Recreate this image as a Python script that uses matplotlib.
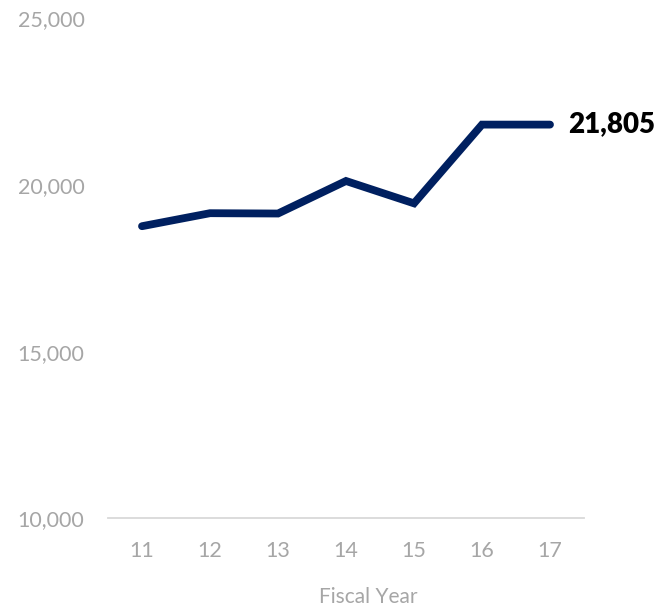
import matplotlib.pyplot as plt
from matplotlib.ticker import FuncFormatter

plt.rcParams['font.family'] = ['Lato', 'DejaVu Sans']

years = ['11', '12', '13', '14', '15', '16', '17']
values = [18760, 19150, 19140, 20115, 19445, 21805, 21805]
last_label = '21,805'

grey = '#A6A6A6'
navy = '#002060'

fig = plt.figure(figsize=(6.65, 6.06), dpi=100)
ax = fig.add_axes([0.1624, 0.1444, 0.7158, 0.8259])

x = list(range(len(years)))
ax.plot(x, values, color=navy, linewidth=5.6, solid_capstyle='round',
        solid_joinstyle='miter')

ax.set_xlim(-0.5, len(years) - 0.5)
ax.set_ylim(10000, 25000)
ax.set_yticks([10000, 15000, 20000, 25000])
ax.yaxis.set_major_formatter(FuncFormatter(lambda v, p: f'{int(v):,}'))
ax.set_xticks(x)
ax.set_xticklabels(years)

for s in ['top', 'right', 'left']:
    ax.spines[s].set_visible(False)
ax.spines['bottom'].set_color('#D9D9D9')
ax.spines['bottom'].set_linewidth(1.3)

ax.tick_params(axis='both', length=0, colors=grey, labelsize=15.5)
ax.tick_params(axis='x', pad=16)
ax.tick_params(axis='y', pad=17)

ax.set_xlabel('Fiscal Year', color=grey, fontsize=15, labelpad=19)
ax.xaxis.label.set_x(0.546)

ax.annotate(last_label, xy=(x[-1], values[-1]), xytext=(13, 0),
            textcoords='offset points', va='center', ha='left',
            fontsize=20, fontweight='heavy', color='black',
            annotation_clip=False)

fig.savefig('out.png', dpi=100)
